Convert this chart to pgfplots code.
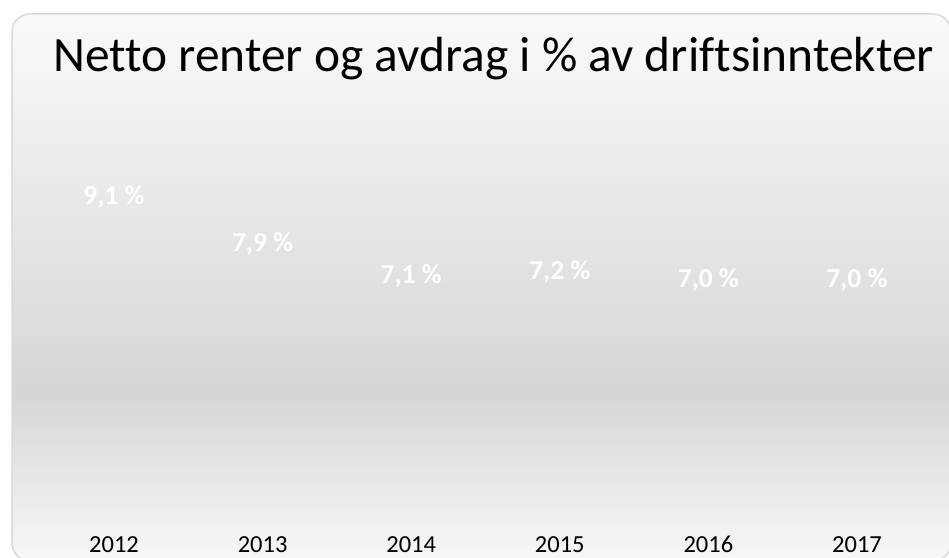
\documentclass[border=0pt]{standalone}
\usepackage{pgfplots}
\pgfplotsset{compat=1.18}
\usepackage{fontspec}
\setmainfont[Ligatures=CommonOff]{Carlito}
\definecolor{bgtop}{HTML}{FAFAFA}
\definecolor{bgmid}{HTML}{D6D6D6}
\definecolor{bgbot}{HTML}{F8F8F8}
\definecolor{framecol}{HTML}{D9D9D9}
\begin{document}
\begin{tikzpicture}
\useasboundingbox (0bp,0bp) rectangle (949bp,558bp);
\fill[white] (0bp,0bp) rectangle (949bp,558bp);
\begin{scope}
\clip[rounded corners=18bp] (12bp,-3bp) rectangle (951bp,544bp);
\shade[top color=bgtop, bottom color=bgmid] (0bp,165bp) rectangle (960bp,545bp);
\shade[top color=bgmid, bottom color=bgbot] (0bp,-5bp) rectangle (960bp,165.5bp);
\end{scope}
\draw[framecol, line width=1.5bp, rounded corners=18bp] (12bp,-3bp) rectangle (951bp,544bp);
\node[anchor=base, inner sep=0pt, font=\fontsize{49.4bp}{58bp}\selectfont] at (493.5bp,486bp) {Netto renter og avdrag i \% av driftsinntekter};
\begin{axis}[
  at={(39.7bp,4bp)}, anchor=south west,
  scale only axis, width=891.6bp, height=454bp,
  xmin=-0.5, xmax=5.5, ymin=0, ymax=11.58,
  axis line style={draw=none},
  xtick={0,1,2,3,4,5},
  xticklabels={2012,2013,2014,2015,2016,2017},
  xtick style={draw=none},
  ytick=\empty,
  xticklabel style={font=\fontsize{24.5bp}{28bp}\selectfont, anchor=base, yshift=1.5bp, inner sep=0pt},
  clip=false,
]
\addplot[ybar, bar width=90bp, draw=none, fill=none,
  nodes near coords={\pgfmathprintnumber[fixed, fixed zerofill, precision=1, use comma, assume math mode=true]{\pgfplotspointmeta}~\%},
  nodes near coords align={center},
  every node near coord/.append style={font=\bfseries\fontsize{27.4bp}{32bp}\selectfont, text=white, inner sep=0pt}
] coordinates {(0,9.1) (1,7.9) (2,7.1) (3,7.2) (4,7.0) (5,7.0)};
\end{axis}
\end{tikzpicture}
\end{document}
